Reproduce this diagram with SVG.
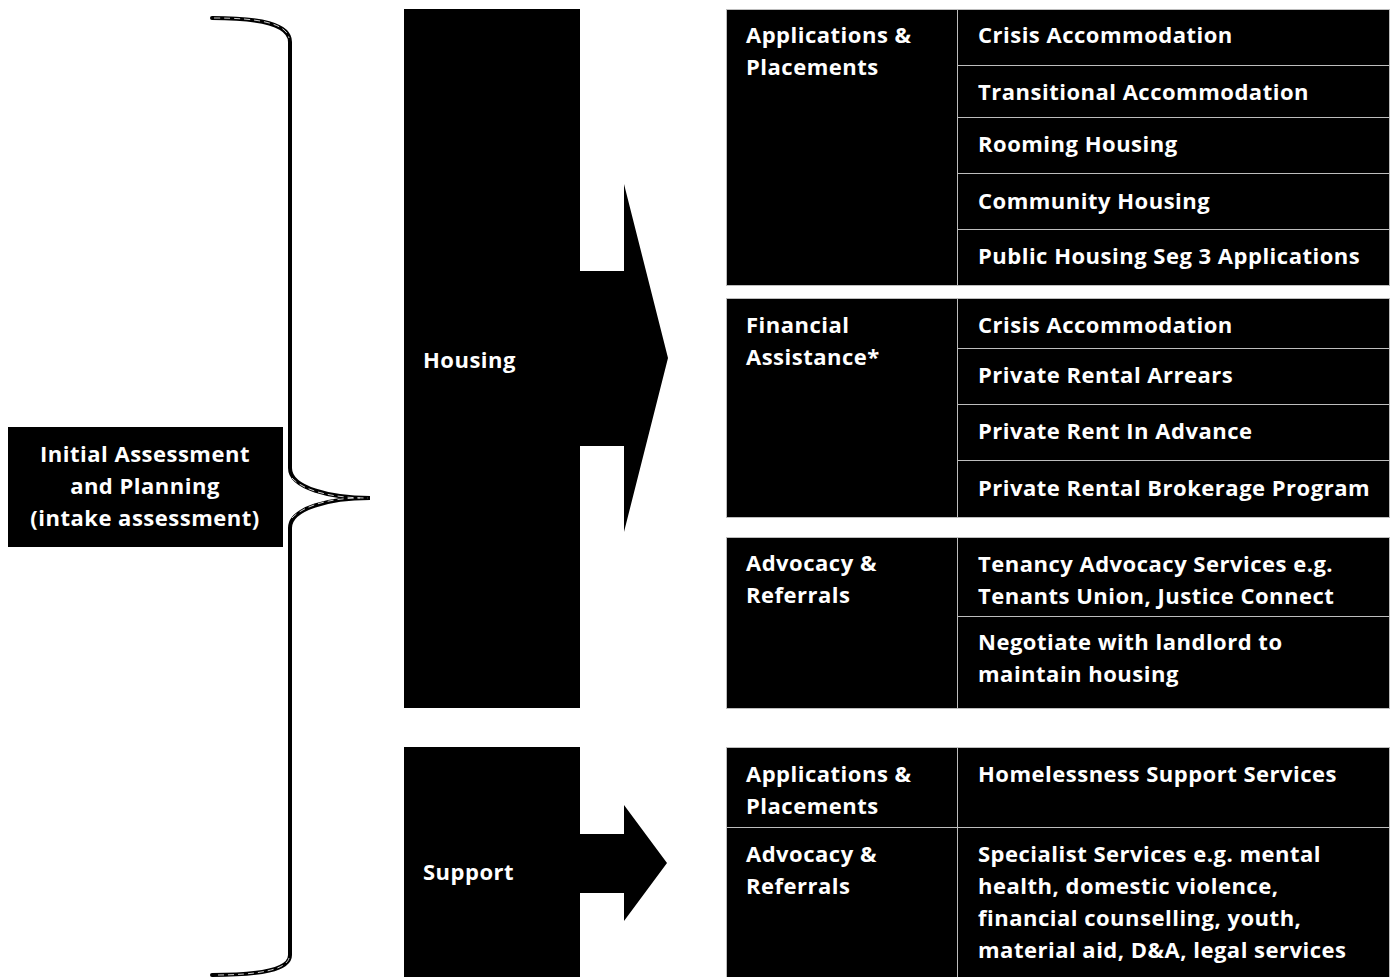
<svg xmlns="http://www.w3.org/2000/svg" width="1396" height="977" viewBox="0 0 1396 977">
<style>
.box{fill:#000;}
.cell{fill:#000;stroke:#bdbdbd;stroke-width:1;}
.t{font-family:"Open Sans","Noto Sans",sans-serif;font-weight:bold;font-size:22px;letter-spacing:0.5px;fill:#fff;}
.c{text-anchor:middle;}
.brace{fill:none;stroke:#000;stroke-width:4;stroke-linecap:round;}
.hl{fill:none;stroke:#fff;stroke-width:1;stroke-dasharray:6 4;opacity:0.8;}
</style>
<rect width="1396" height="977" fill="#fff"/>

<g id="initial">
<rect class="box" x="8" y="427" width="275" height="120"/>
<text class="t c" x="145" y="462">Initial Assessment</text>
<text class="t c" x="145" y="494">and Planning</text>
<text class="t c" x="145" y="526">(intake assessment)</text>
</g>

<g id="connectors">
<path class="brace" d="M212,18 C260,18 290,24 290,42 L290,468 C290,488 330,498 370,498 C330,498 290,508 290,528 L290,955 C290,970 260,975 212,975"/>
<path class="hl" d="M214,18 C258,18 286,23 289,38"/>
<path class="hl" d="M292,478 C305,492 335,498 368,498"/>
<path class="hl" d="M292,518 C305,504 335,498 360,498"/>
<path class="hl" d="M289,958 C286,970 258,975 214,975"/>
</g>

<g id="housing">
<rect class="box" x="404" y="9" width="176" height="699"/>
<polygon class="box" points="579,271 624,271 624,184 668,358 624,532 624,446 579,446"/>
<text class="t" x="423" y="368">Housing</text>
</g>

<g id="support">
<rect class="box" x="404" y="747" width="176" height="230"/>
<polygon class="box" points="579,834 624,834 624,805 667,863 624,921 624,893 579,893"/>
<text class="t" x="423" y="880">Support</text>
</g>

<g id="group1">
<rect class="cell" x="726.5" y="9.5" width="231" height="276"/>
<rect class="cell" x="957.5" y="9.5" width="432" height="56"/>
<rect class="cell" x="957.5" y="65.5" width="432" height="52"/>
<rect class="cell" x="957.5" y="117.5" width="432" height="56"/>
<rect class="cell" x="957.5" y="173.5" width="432" height="56"/>
<rect class="cell" x="957.5" y="229.5" width="432" height="56"/>
<text class="t" x="746" y="43">Applications &amp;</text>
<text class="t" x="746" y="75">Placements</text>
<text class="t" x="978" y="43">Crisis Accommodation</text>
<text class="t" x="978" y="100">Transitional Accommodation</text>
<text class="t" x="978" y="152">Rooming Housing</text>
<text class="t" x="978" y="209">Community Housing</text>
<text class="t" x="978" y="264">Public Housing Seg 3 Applications</text>
</g>

<g id="group2">
<rect class="cell" x="726.5" y="298.5" width="231" height="219"/>
<rect class="cell" x="957.5" y="298.5" width="432" height="50"/>
<rect class="cell" x="957.5" y="348.5" width="432" height="56"/>
<rect class="cell" x="957.5" y="404.5" width="432" height="56"/>
<rect class="cell" x="957.5" y="460.5" width="432" height="57"/>
<text class="t" x="746" y="333">Financial</text>
<text class="t" x="746" y="365">Assistance*</text>
<text class="t" x="978" y="333">Crisis Accommodation</text>
<text class="t" x="978" y="383">Private Rental Arrears</text>
<text class="t" x="978" y="439">Private Rent In Advance</text>
<text class="t" x="978" y="496">Private Rental Brokerage Program</text>
</g>

<g id="group3">
<rect class="cell" x="726.5" y="537.5" width="231" height="171"/>
<rect class="cell" x="957.5" y="537.5" width="432" height="79"/>
<rect class="cell" x="957.5" y="616.5" width="432" height="92"/>
<text class="t" x="746" y="571">Advocacy &amp;</text>
<text class="t" x="746" y="603">Referrals</text>
<text class="t" x="978" y="572">Tenancy Advocacy Services e.g.</text>
<text class="t" x="978" y="604">Tenants Union, Justice Connect</text>
<text class="t" x="978" y="650">Negotiate with landlord to</text>
<text class="t" x="978" y="682">maintain housing</text>
</g>

<g id="group4">
<rect class="cell" x="726.5" y="747.5" width="231" height="80"/>
<rect class="cell" x="957.5" y="747.5" width="432" height="80"/>
<rect class="cell" x="726.5" y="827.5" width="231" height="152"/>
<rect class="cell" x="957.5" y="827.5" width="432" height="152"/>
<text class="t" x="746" y="782">Applications &amp;</text>
<text class="t" x="746" y="814">Placements</text>
<text class="t" x="978" y="782">Homelessness Support Services</text>
<text class="t" x="746" y="862">Advocacy &amp;</text>
<text class="t" x="746" y="894">Referrals</text>
<text class="t" x="978" y="862">Specialist Services e.g. mental</text>
<text class="t" x="978" y="894">health, domestic violence,</text>
<text class="t" x="978" y="926">financial counselling, youth,</text>
<text class="t" x="978" y="958">material aid, D&amp;A, legal services</text>
</g>
</svg>
